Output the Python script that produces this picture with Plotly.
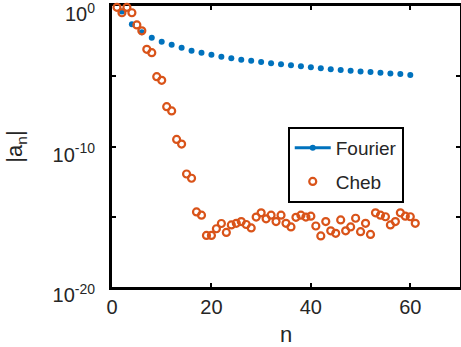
import plotly.graph_objects as go

# Fourier coefficients (even n)
fourier_n = list(range(2, 61, 2))
fourier_a = [4.0e-1, 5.0e-2, 1.35e-2, 5.5e-3, 2.9e-3, 1.74e-3, 1.07e-3, 6.6e-4, 4.8e-4, 3.4e-4,
             2.45e-4, 1.9e-4, 1.5e-4, 1.29e-4, 1.02e-4, 8.3e-5, 7.1e-5, 6.0e-5, 5.1e-5, 4.4e-5,
             3.7e-5, 3.2e-5, 2.75e-5, 2.5e-5, 2.2e-5, 2.0e-5, 1.8e-5, 1.6e-5, 1.45e-5, 1.23e-5]

# Chebyshev coefficients
cheb_n = list(range(1, 62))
cheb_a = [8.1e-1, 3.3e-1, 8.1e-1, 3.3e-1, 4.5e-2, 1.7e-2, 8.3e-4, 4.8e-4, 9.3e-6, 5.1e-6,
          6.8e-8, 3.4e-8, 3.2e-10, 1.5e-10, 1.1e-12, 5.5e-13, 2.2e-15, 1.3e-15, 4.7e-17, 4.7e-17,
          1.4e-16, 3.3e-16, 7.6e-17, 2.6e-16, 3.4e-16, 4.5e-16, 2.8e-16, 1.6e-16, 9.5e-16, 1.9e-15,
          7.1e-16, 1.3e-15, 4.5e-16, 1.3e-15, 3.4e-16, 1.9e-16, 9.1e-16, 1.3e-15, 9.5e-16, 1.1e-15,
          2.2e-16, 4.3e-17, 4.5e-16, 1.0e-16, 6.6e-17, 5.9e-16, 1.0e-16, 1.9e-16, 7.8e-16, 8.7e-17,
          3.4e-16, 5.5e-17, 1.9e-15, 1.3e-15, 1.0e-15, 2.6e-16, 4.5e-16, 1.9e-15, 1.1e-15, 1.0e-15,
          3.4e-16]

x_ticks = [0, 20, 40, 60]
y_ticks = [1e0, 1e-5, 1e-10, 1e-15, 1e-20]
y_ticktext = ["10<sup>0</sup>", "", "10<sup>-10</sup>", "", "10<sup>-20</sup>"]

BLUE = "#0072BD"
ORANGE = "#D95319"
FONT = "Liberation Sans, Arial, sans-serif"
TXT = "#262626"

fig = go.Figure()
fig.add_trace(go.Scatter(x=fourier_n, y=fourier_a, mode="markers", name="Fourier",
                         marker=dict(color=BLUE, size=6), showlegend=False, cliponaxis=False))
fig.add_trace(go.Scatter(x=[None], y=[None], mode="lines+markers", name="Fourier",
                         line=dict(color=BLUE, width=3), marker=dict(color=BLUE, size=6),
                         legendgroup="f"))
fig.add_trace(go.Scatter(x=cheb_n, y=cheb_a, mode="markers", name="Cheb",
                         marker=dict(symbol="circle-open", color=ORANGE, size=7,
                                     line=dict(width=2.2, color=ORANGE)),
                         cliponaxis=False, legendgroup="c"))

axis_common = dict(showgrid=False, zeroline=False, showline=True, linecolor="black",
                   linewidth=3, mirror="ticks", ticks="inside", ticklen=4, tickwidth=2,
                   tickcolor="black", layer="below traces", ticklabeloverflow="allow",
                   automargin=False,
                   tickfont=dict(family=FONT, size=20, color=TXT))

fig.update_xaxes(range=[0, 70], tickvals=x_ticks, ticklabelstandoff=0,
                 title=dict(text="n", font=dict(family=FONT, size=22, color=TXT), standoff=11),
                 **axis_common)
fig.update_yaxes(type="log", range=[-20, 0], tickvals=y_ticks, ticktext=y_ticktext,
                 ticklabelstandoff=10, ticklabelshift=8,
                 title=dict(text="|a<sub>n</sub>|", font=dict(family=FONT, size=22, color=TXT),
                            standoff=24),
                 **axis_common)

fig.update_layout(
    width=461, height=347,
    margin=dict(l=112, r=1, t=6, b=60, autoexpand=False),
    plot_bgcolor="white", paper_bgcolor="white",
    legend=dict(x=0.505, y=0.57, xanchor="left", yanchor="top",
                bordercolor="black", borderwidth=2, bgcolor="white",
                font=dict(family=FONT, size=19, color=TXT),
                tracegroupgap=6, traceorder="grouped", itemwidth=36),
)

fig.write_html("out.html")
